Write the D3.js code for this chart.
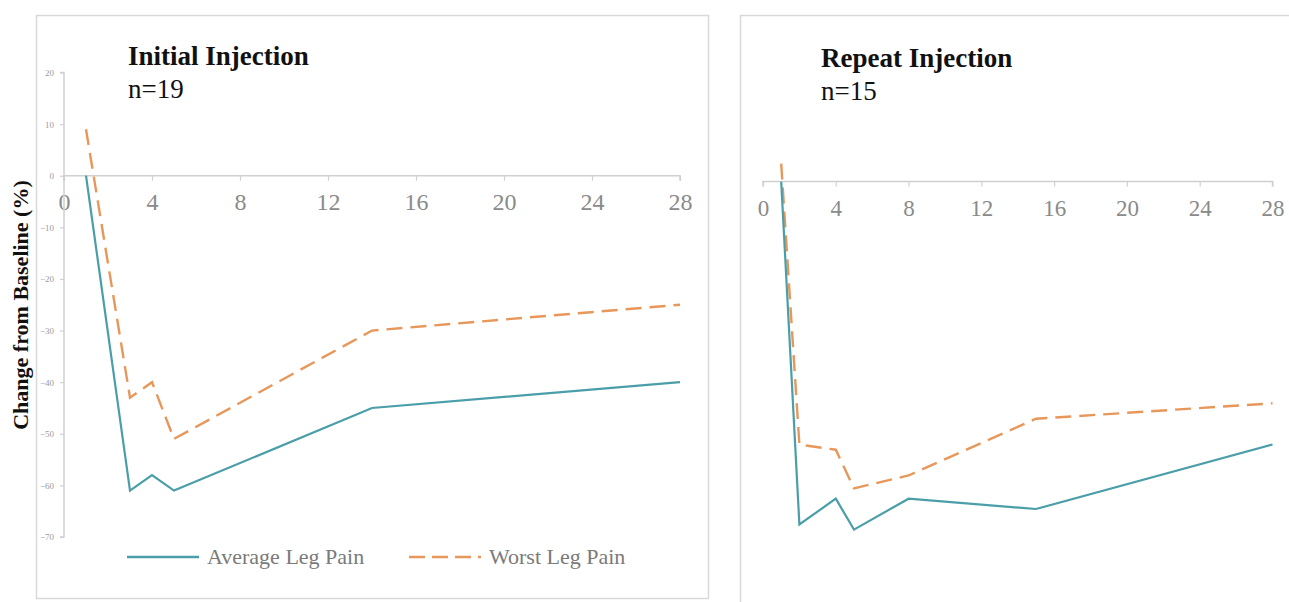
<!DOCTYPE html>
<html>
<head>
<meta charset="utf-8">
<script src="https://cdn.jsdelivr.net/npm/d3@7"></script>
<style>
  html, body { margin: 0; padding: 0; background: #fff; }
  svg { display: block; font-family: "Liberation Serif", "Times New Roman", serif; }
</style>
</head>
<body>
<svg id="chart" width="1289" height="602"></svg>
<script>
// Days after injection and % change from baseline
const daysInitial  = [1, 3, 4, 5, 14, 28];
const avgInitial   = [0, -61, -58, -61, -45, -40];
const worstInitial = [9, -43, -40, -51, -30, -25];

const daysRepeat   = [1, 2, 4, 5, 8, 15, 28];
const avgRepeat    = [0, -66.5, -61.5, -67.5, -61.5, -63.5, -51];
const worstRepeat  = [3.5, -51, -52, -59.5, -57, -46, -43];

const xTicks = [0, 4, 8, 12, 16, 20, 24, 28];
const yTicks = [20, 10, 0, -10, -20, -30, -40, -50, -60, -70];

const seriesNames = ["Average Leg Pain", "Worst Leg Pain"];
const teal = "#4a9ea8";
const orange = "#e8975a";
const dashes = "16,8";

const svg = d3.select("#chart");

// panel frames
svg.append("rect").attr("x", 36.5).attr("y", 15.5).attr("width", 672).attr("height", 583)
  .attr("fill", "#fff").attr("stroke", "#d9d9d9").attr("stroke-width", 1.5);
svg.append("rect").attr("x", 740.5).attr("y", 15.5).attr("width", 600).attr("height", 620)
  .attr("fill", "#fff").attr("stroke", "#d9d9d9").attr("stroke-width", 1.5);

function drawPanel(cfg) {
  const x = d3.scaleLinear().domain([0, 28]).range(cfg.xRange);
  const y = d3.scaleLinear().domain([-70, 20]).range(cfg.yRange);
  const g = svg.append("g");

  // x axis along zero
  const xAxis = g.append("g")
    .attr("transform", `translate(0,${y(0)})`)
    .call(d3.axisBottom(x).tickValues(xTicks).tickSize(5).tickFormat(d3.format("d")));
  xAxis.select(".domain").attr("stroke", "#d0d0d0").attr("stroke-width", 1.5)
    .attr("d", `M${x(0)},5V0H${x(28)}V5`);
  xAxis.selectAll(".tick line").attr("stroke", "#d0d0d0").attr("stroke-width", 1.2);
  xAxis.selectAll(".tick text")
    .attr("fill", "#8a8a8a")
    .attr("font-family", "Liberation Serif, serif")
    .attr("font-size", cfg.xFont)
    .attr("dy", 0).attr("y", cfg.xLabelY);

  if (cfg.showY) {
    const yAxis = g.append("g")
      .attr("transform", `translate(${x(0)},0)`)
      .call(d3.axisLeft(y).tickValues(yTicks).tickSize(4).tickFormat(d3.format("d")));
    yAxis.select(".domain").attr("stroke", "#d0d0d0").attr("stroke-width", 1.5)
      .attr("d", `M-4,${y(20)}H0V${y(-70)}H-4`);
    yAxis.selectAll(".tick line").attr("stroke", "#d0d0d0").attr("stroke-width", 1.2);
    yAxis.selectAll(".tick text")
      .attr("fill", "#9a9a9a")
      .attr("font-family", "Liberation Serif, serif")
      .attr("font-size", 9)
      .attr("x", -10);
  }

  const line = d3.line().x(d => x(d[0])).y(d => y(d[1]));

  g.append("path")
    .datum(cfg.days.map((d, i) => [d, cfg.worst[i]]))
    .attr("fill", "none").attr("stroke", orange).attr("stroke-width", 2.4)
    .attr("stroke-dasharray", dashes)
    .attr("d", line);

  g.append("path")
    .datum(cfg.days.map((d, i) => [d, cfg.avg[i]]))
    .attr("fill", "none").attr("stroke", teal).attr("stroke-width", 2.2)
    .attr("stroke-linejoin", "miter")
    .attr("d", line);

  // panel heading
  g.append("text").attr("x", cfg.titleX).attr("y", cfg.titleY)
    .attr("font-size", 27).attr("font-weight", "bold").attr("fill", "#111")
    .text(cfg.title);
  g.append("text").attr("x", cfg.titleX).attr("y", cfg.titleY + 33)
    .attr("font-size", 27).attr("fill", "#111")
    .text(cfg.n);
}

drawPanel({
  days: daysInitial, avg: avgInitial, worst: worstInitial,
  xRange: [64, 680], yRange: [537, 72.5],
  showY: true, xFont: 24, xLabelY: 34,
  title: "Initial Injection", n: "n=19", titleX: 128, titleY: 65
});

drawPanel({
  days: daysRepeat, avg: avgRepeat, worst: worstRepeat,
  xRange: [763, 1272.5], yRange: [542.5, 78.5],
  showY: false, xFont: 23, xLabelY: 34,
  title: "Repeat Injection", n: "n=15", titleX: 821, titleY: 67
});

// y axis title
svg.append("text")
  .attr("transform", "translate(28,305) rotate(-90)")
  .attr("text-anchor", "middle")
  .attr("font-size", 22).attr("font-weight", "bold").attr("fill", "#111")
  .text("Change from Baseline (%)");

// legend
const legend = svg.append("g");
const legendItems = [
  { name: seriesNames[0], color: teal, dash: null, x0: 127 },
  { name: seriesNames[1], color: orange, dash: "16,7", x0: 409 }
];
legendItems.forEach(item => {
  legend.append("line")
    .attr("x1", item.x0).attr("x2", item.x0 + 72)
    .attr("y1", 557).attr("y2", 557)
    .attr("stroke", item.color).attr("stroke-width", 2.4)
    .attr("stroke-dasharray", item.dash);
  legend.append("text")
    .attr("x", item.x0 + 80).attr("y", 564)
    .attr("font-size", 22).attr("fill", "#7a7a7a")
    .text(item.name);
});
</script>
</body>
</html>
